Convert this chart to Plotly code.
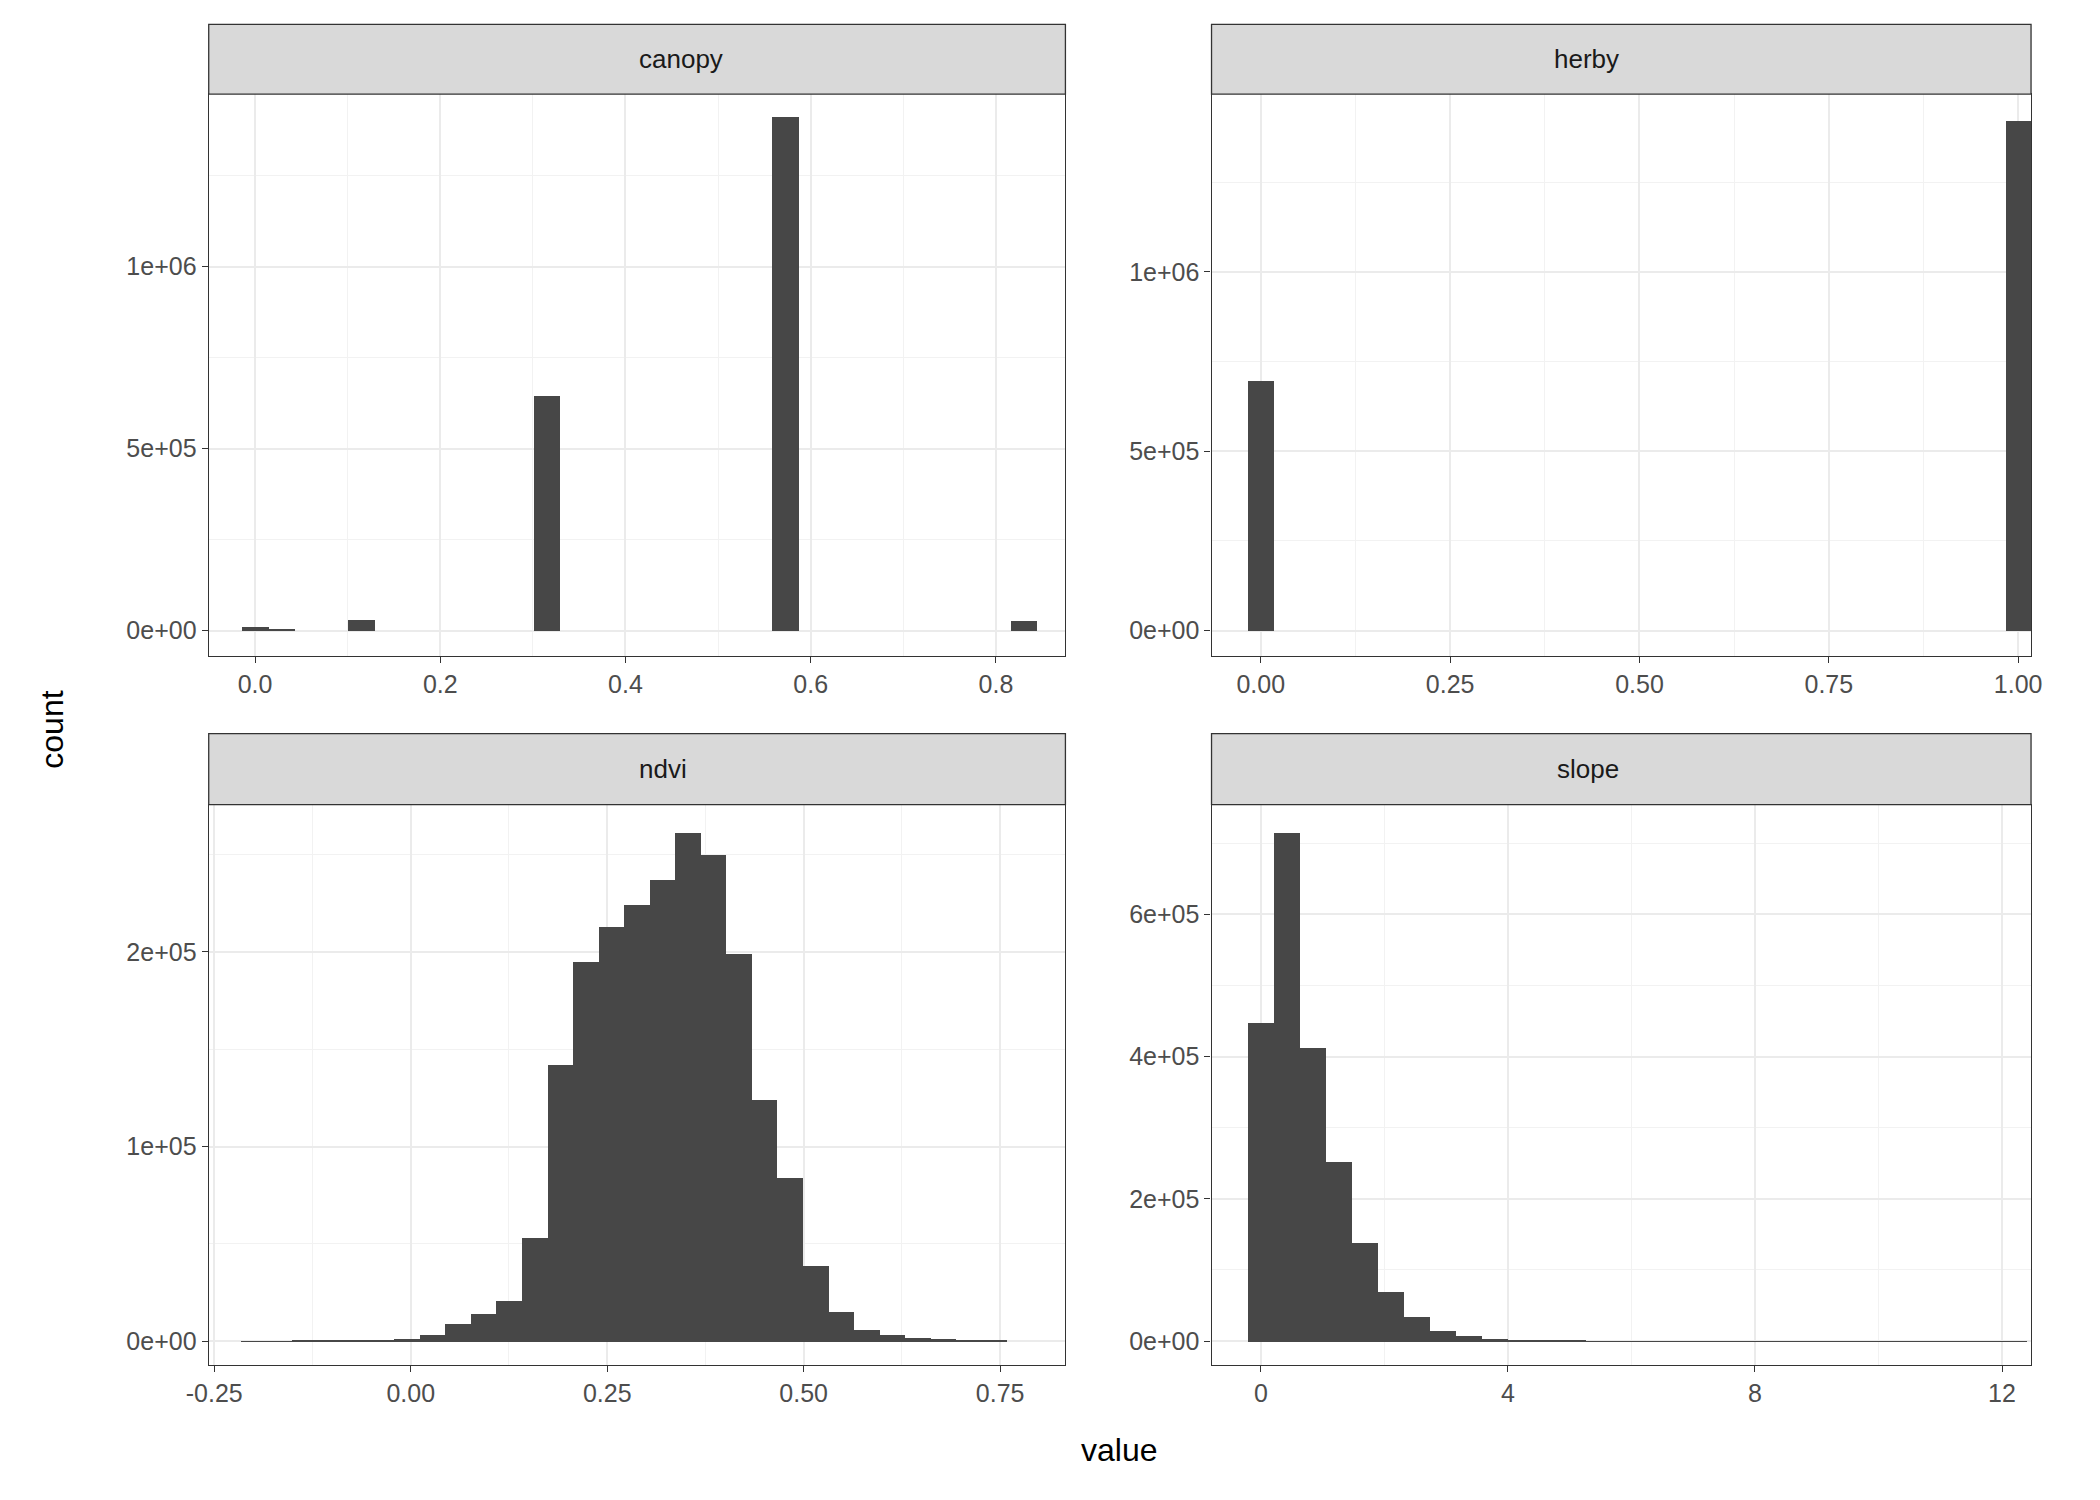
import plotly.graph_objects as go

# bin centres / counts (30 bins per variable)
canopy_width = 0.83 / 29
canopy_bins = [0, 1, 4, 11, 20, 29]
canopy_counts = [10000, 3000, 28000, 645000, 1410000, 25000]

herby_width = 1 / 29
herby_bins = [0, 29]
herby_counts = [695000, 1420000]

ndvi_width = 0.0325
ndvi_start = -0.2
ndvi_counts = [100, 200, 300, 400, 500, 800, 1500, 3500, 9000, 14000,
               21000, 53000, 142000, 195000, 213000, 224000, 237000, 261000, 250000, 199000,
               124000, 84000, 39000, 15000, 6000, 3500, 2000, 1500, 800, 300]

slope_width = 0.42
slope_counts = [447000, 715000, 412000, 252000, 138000, 70000, 35000, 15000, 8000, 4000,
                2500, 1500, 1000, 700, 500, 400, 300, 250, 200, 150,
                120, 100, 80, 60, 50, 40, 30, 20, 15, 10]

bar_color = "#474747"
font = "Liberation Sans, Arial, sans-serif"

fig = go.Figure()
fig.add_trace(go.Bar(x=[k * canopy_width for k in canopy_bins], y=canopy_counts,
                     width=canopy_width, xaxis="x", yaxis="y"))
fig.add_trace(go.Bar(x=[k * herby_width for k in herby_bins], y=herby_counts,
                     width=herby_width, xaxis="x2", yaxis="y2"))
fig.add_trace(go.Bar(x=[ndvi_start + k * ndvi_width for k in range(len(ndvi_counts))], y=ndvi_counts,
                     width=ndvi_width, xaxis="x3", yaxis="y3"))
fig.add_trace(go.Bar(x=[k * slope_width for k in range(len(slope_counts))], y=slope_counts,
                     width=slope_width, xaxis="x4", yaxis="y4"))
fig.update_traces(marker_color=bar_color, marker_line_width=0, showlegend=False)

W, H = 1568, 1100
def px(v): return (v - 16.2) / 0.992
def py(v): return (v - 5.7) / 1.019
def dom_x(a, b): return [px(a) / W, px(b) / W]
def dom_y(top, bot): return [1 - py(bot) / H, 1 - py(top) / H]

common = dict(showline=True, linecolor="#333333", linewidth=1.3, mirror=True,
              gridcolor="#EBEBEB", gridwidth=2, zeroline=False,
              ticks="outside", ticklen=6, tickcolor="#333333",
              tickfont=dict(size=25, color="#4D4D4D", family=font),
              minor=dict(showgrid=True, gridcolor="#F2F2F2", gridwidth=1))

panels = [
    ("xaxis", "yaxis", dom_x(150, 795), dom_y(70, 490), [-0.05, 0.875], [-0.07e6, 1.474e6],
     [0, 0.2, 0.4, 0.6, 0.8], ["0.0", "0.2", "0.4", "0.6", "0.8"], [0, 5e5, 1e6], ["0e+00", "5e+05", "1e+06"]),
    ("xaxis2", "yaxis2", dom_x(905, 1522), dom_y(70, 490), [-0.065, 1.017], [-0.071e6, 1.496e6],
     [0, 0.25, 0.5, 0.75, 1], ["0.00", "0.25", "0.50", "0.75", "1.00"], [0, 5e5, 1e6], ["0e+00", "5e+05", "1e+06"]),
    ("xaxis3", "yaxis3", dom_x(150, 795), dom_y(601, 1020), [-0.257, 0.833], [-1.24e4, 2.756e5],
     [-0.25, 0, 0.25, 0.5, 0.75], ["-0.25", "0.00", "0.25", "0.50", "0.75"], [0, 1e5, 2e5], ["0e+00", "1e+05", "2e+05"]),
    ("xaxis4", "yaxis4", dom_x(905, 1522), dom_y(601, 1020), [-0.8, 12.47], [-3.4e4, 7.54e5],
     [0, 4, 8, 12], ["0", "4", "8", "12"], [0, 2e5, 4e5, 6e5], ["0e+00", "2e+05", "4e+05", "6e+05"]),
]
titles = ["canopy", "herby", "ndvi", "slope"]
strip_tops = [18, 18, 548, 548]

layout = {}
shapes, annotations = [], []
for i, (xa, ya, dx, dy, xr, yr, xt, xl, yt, yl) in enumerate(panels):
    xa_ref = "x" + ("" if i == 0 else str(i + 1))
    ya_ref = "y" + ("" if i == 0 else str(i + 1))
    xstep = xt[1] - xt[0]
    ystep = yt[1] - yt[0]
    layout[xa] = dict(common, domain=dx, range=xr, tickvals=xt, ticktext=xl, anchor=ya_ref,
                      minor=dict(common["minor"], dtick=xstep / 2, tick0=xt[0] - xstep / 2))
    layout[ya] = dict(common, domain=dy, range=yr, tickvals=yt, ticktext=yl, anchor=xa_ref,
                      minor=dict(common["minor"], dtick=ystep / 2, tick0=ystep / 2))
    # facet strip
    strip_top = 1 - py(strip_tops[i]) / H
    shapes.append(dict(type="rect", xref="paper", yref="paper", x0=dx[0], x1=dx[1],
                       y0=dy[1], y1=strip_top, fillcolor="#D9D9D9",
                       line=dict(color="#333333", width=1.3), layer="above"))
    annotations.append(dict(text=titles[i], xref="paper", yref="paper", x=(dx[0] + dx[1]) / 2,
                            y=(dy[1] + strip_top) / 2, yanchor="middle", showarrow=False,
                            font=dict(size=26, color="#1A1A1A", family=font)))

annotations.append(dict(text="value", xref="paper", yref="paper", x=px(836) / W, y=1 - py(1083) / H,
                        yanchor="middle", showarrow=False, font=dict(size=32, color="black", family=font)))
annotations.append(dict(text="count", xref="paper", yref="paper", x=px(32) / W, y=1 - py(545) / H,
                        xanchor="center", showarrow=False, textangle=-90,
                        font=dict(size=32, color="black", family=font)))

fig.update_layout(**layout, shapes=shapes, annotations=annotations, bargap=0,
                  width=2100, height=1500, margin=dict(l=0, r=0, t=0, b=0),
                  plot_bgcolor="white", paper_bgcolor="white", font=dict(family=font))
fig.write_html("out.html")
